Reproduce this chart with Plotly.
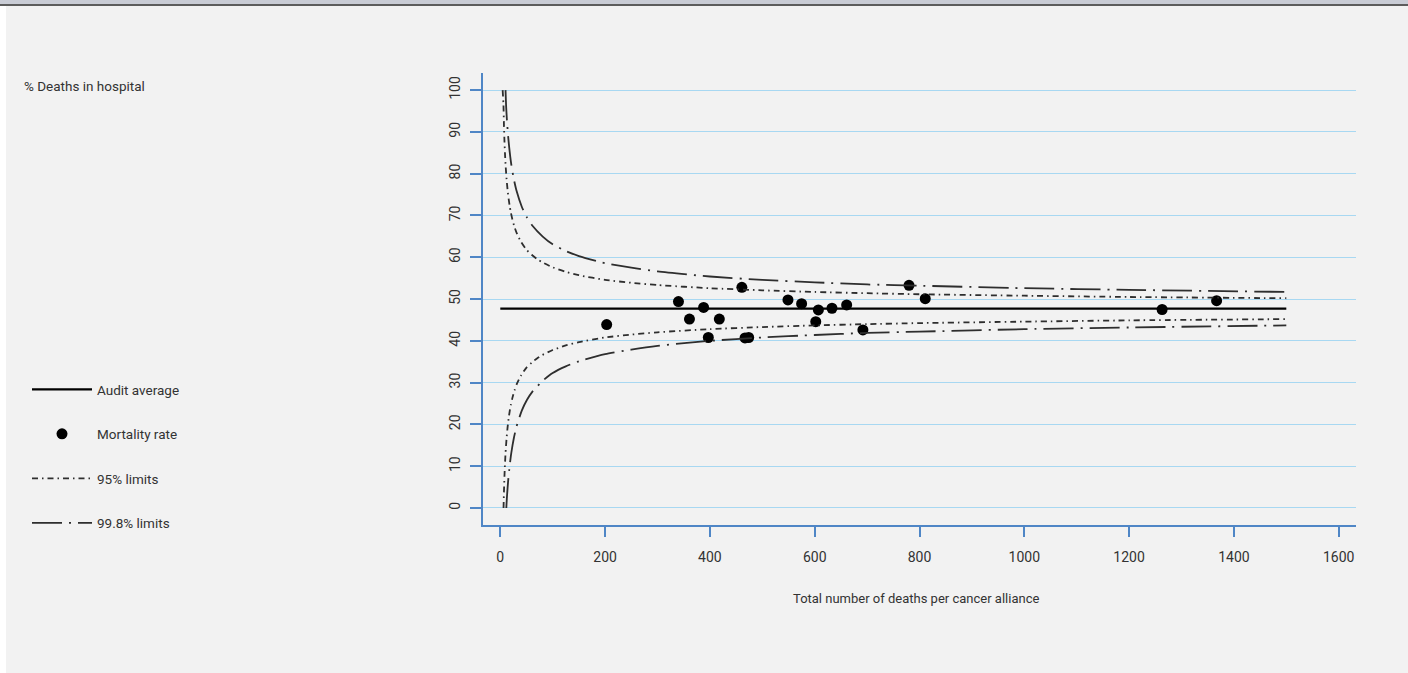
import plotly.graph_objects as go

# ---------------- data ----------------
deaths = [203, 340, 361, 388, 397, 418, 461, 467, 474, 549, 575, 602, 607, 633, 661, 692, 780, 811, 1263, 1367]
mortality = [43.9, 49.4, 45.2, 48.0, 40.8, 45.2, 52.8, 40.7, 40.8, 49.8, 48.9, 44.6, 47.4, 47.8, 48.6, 42.6, 53.3, 50.1, 47.5, 49.6]

audit_x = [0, 1500]
audit_y = [47.7, 47.7]

l95_upper_x = [4.5, 6, 7, 8, 9, 10, 12, 14, 16, 18, 20, 23, 27, 32, 40, 50, 60, 70, 80, 100, 125, 150, 200, 250, 300, 400, 500, 600, 700, 800, 1000, 1200, 1500]
l95_upper_y = [100, 96.6, 91.5, 87.7, 84.7, 82.3, 78.7, 76.0, 73.9, 72.2, 70.8, 69.1, 67.3, 65.6, 63.6, 61.8, 60.6, 59.6, 58.8, 57.6, 56.5, 55.7, 54.6, 53.9, 53.35, 52.6, 52.1, 51.7, 51.4, 51.15, 50.8, 50.5, 50.2]
l95_lower_x = [6.2, 7, 8, 9, 10, 12, 14, 16, 18, 20, 23, 27, 32, 40, 50, 60, 70, 80, 100, 125, 150, 200, 250, 300, 400, 500, 600, 700, 800, 1000, 1200, 1500]
l95_lower_y = [0, 3.9, 7.7, 10.7, 13.1, 16.7, 19.4, 21.5, 23.2, 24.6, 26.3, 28.1, 29.8, 31.8, 33.6, 34.8, 35.8, 36.6, 37.8, 38.9, 39.7, 40.8, 41.5, 42.05, 42.8, 43.3, 43.7, 44.0, 44.25, 44.6, 44.9, 45.2]

l998_upper_x = [10, 11, 12, 13, 15, 17, 19, 21, 26, 31, 41, 51, 61, 81, 100, 125, 150, 200, 250, 300, 400, 500, 600, 700, 800, 1000, 1200, 1500]
l998_upper_y = [100, 96.5, 94.2, 92.2, 88.9, 86.3, 84.1, 82.2, 78.6, 75.9, 72.1, 69.5, 67.6, 64.95, 63.1, 61.5, 60.3, 58.6, 57.5, 56.6, 55.4, 54.6, 54.0, 53.5, 53.2, 52.6, 52.2, 51.7]
l998_lower_x = [11.5, 12, 13, 15, 17, 19, 21, 26, 31, 41, 51, 61, 81, 100, 125, 150, 200, 250, 300, 400, 500, 600, 700, 800, 1000, 1200, 1500]
l998_lower_y = [0, 1.2, 3.2, 6.5, 9.1, 11.3, 13.2, 16.8, 19.5, 23.3, 25.9, 27.8, 30.45, 32.3, 33.9, 35.1, 36.8, 37.9, 38.8, 40.0, 40.8, 41.4, 41.9, 42.2, 42.8, 43.2, 43.7]

x_ticks = [0, 200, 400, 600, 800, 1000, 1200, 1400, 1600]
y_ticks = [0, 10, 20, 30, 40, 50, 60, 70, 80, 90, 100]

# ---------------- layout geometry ----------------
W, H = 1408, 673
ML, MR, MT, MB = 483, 52, 73, 148
PW, PH = W - ML - MR, H - MT - MB

def px_x(p):
    return (p - ML) / PW

def px_y(p):
    return (H - MB - p) / PH

FONT = "Roboto"
TXT = "#333333"
LIM = "#2e2e2e"
DASH95 = "6px,4px,1.5px,4px"
DASH998 = "30px,7px,2px,7px"

fig = go.Figure()

fig.add_trace(go.Scatter(x=audit_x, y=audit_y, mode="lines", name="Audit average",
                         line=dict(color="#000000", width=2.2),
                         legendgroup="a", hoverinfo="skip"))
fig.add_trace(go.Scatter(x=deaths, y=mortality, mode="markers", name="Mortality rate",
                         marker=dict(color="#000000", size=11),
                         legendgroup="b"))
fig.add_trace(go.Scatter(x=l95_upper_x, y=l95_upper_y, mode="lines", name="95% limits",
                         line=dict(color=LIM, width=1.8, dash=DASH95, shape="spline", smoothing=0.6),
                         legendgroup="c"))
fig.add_trace(go.Scatter(x=l95_lower_x, y=l95_lower_y, mode="lines", name="95% limits",
                         line=dict(color=LIM, width=1.8, dash=DASH95, shape="spline", smoothing=0.6),
                         legendgroup="c", showlegend=False))
fig.add_trace(go.Scatter(x=l998_upper_x, y=l998_upper_y, mode="lines", name="99.8% limits",
                         line=dict(color=LIM, width=1.8, dash=DASH998, shape="spline", smoothing=0.6),
                         legendgroup="d"))
fig.add_trace(go.Scatter(x=l998_lower_x, y=l998_lower_y, mode="lines", name="99.8% limits",
                         line=dict(color=LIM, width=1.8, dash=DASH998, shape="spline", smoothing=0.6),
                         legendgroup="d", showlegend=False))

axis_blue = "#4f86c6"
grid_blue = "#a8d8f2"

fig.update_xaxes(range=[-33, 1633], tickvals=x_ticks, showgrid=False, zeroline=False,
                 showline=True, linecolor=axis_blue, linewidth=2,
                 ticks="outside", ticklen=10, tickwidth=2, tickcolor=axis_blue,
                 ticklabelstandoff=8,
                 tickfont=dict(family=FONT, size=14, color=TXT))
fig.update_yaxes(range=[-4.07, 104.1], tickvals=y_ticks, showgrid=True, gridcolor=grid_blue, gridwidth=1.3,
                 zeroline=False, showline=True, linecolor=axis_blue, linewidth=2,
                 ticks="outside", ticklen=11, tickwidth=2, tickcolor=axis_blue, tickangle=-90,
                 ticklabelstandoff=4,
                 tickfont=dict(family=FONT, size=14, color=TXT))

fig.update_layout(
    width=W, height=H,
    margin=dict(l=ML, r=MR, t=MT, b=MB, pad=0),
    paper_bgcolor="#f2f2f2", plot_bgcolor="#f2f2f2",
    font=dict(family=FONT, size=12, color=TXT),
    showlegend=True,
    legend=dict(x=px_x(27), y=px_y(374), xanchor="left", yanchor="top",
                bgcolor="rgba(0,0,0,0)", font=dict(family=FONT, size=13.5, color=TXT),
                traceorder="grouped", tracegroupgap=24, itemwidth=60),
    annotations=[
        dict(text="% Deaths in hospital", x=px_x(22), y=px_y(86), xref="paper", yref="paper",
             xanchor="left", yanchor="middle", showarrow=False,
             font=dict(family=FONT, size=13.5, color=TXT)),
        dict(text="Total number of deaths per cancer alliance", x=px_x(916), y=px_y(598),
             xref="paper", yref="paper", xanchor="center", yanchor="middle", showarrow=False,
             font=dict(family=FONT, size=13, color=TXT)),
    ],
    shapes=[
        dict(type="rect", xref="paper", yref="paper", x0=px_x(0), x1=px_x(W), y0=px_y(0), y1=px_y(4),
             fillcolor="#c9ccd5", line=dict(width=0), layer="above"),
        dict(type="rect", xref="paper", yref="paper", x0=px_x(0), x1=px_x(W), y0=px_y(4), y1=px_y(6),
             fillcolor="#5c5c5c", line=dict(width=0), layer="above"),
        dict(type="rect", xref="paper", yref="paper", x0=px_x(0), x1=px_x(6), y0=px_y(6), y1=px_y(H),
             fillcolor="#ffffff", line=dict(width=0), layer="above"),
    ],
)

fig.write_html("out.html", config={"displayModeBar": False},
               post_script="document.body.style.margin='0';document.body.style.padding='0';")
